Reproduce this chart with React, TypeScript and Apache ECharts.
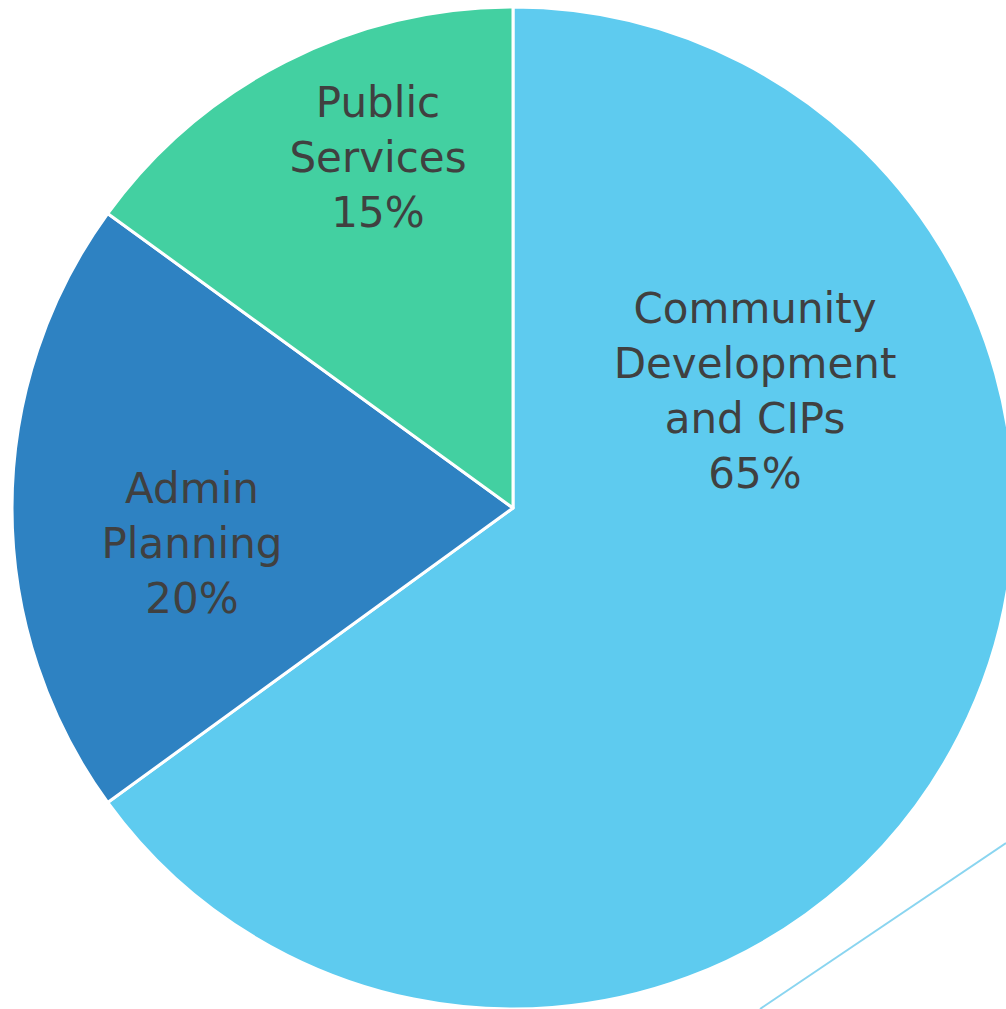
import React, { useEffect, useRef } from "react";
import * as echarts from "echarts";

const categories = ["Community\nDevelopment\nand CIPs", "Admin\nPlanning", "Public\nServices"];
const values = [65, 20, 15];
const colors = ["#5ECBEF", "#2E82C2", "#43D0A1"];

// label anchor positions (layout, px)
const labelPos: [number, number][] = [
  [755, 391],
  [192, 543],
  [378, 157],
];

export default function App() {
  const ref = useRef<HTMLDivElement>(null);
  useEffect(() => {
    if (!ref.current) return;
    const chart = echarts.init(ref.current, undefined, { renderer: "svg" });
    chart.setOption({
      animation: false,
      backgroundColor: "#ffffff",
      series: [
        {
          type: "pie",
          center: [513, 508],
          radius: [0, 501],
          startAngle: 90,
          clockwise: true,
          silent: true,
          itemStyle: { borderColor: "#ffffff", borderWidth: 3 },
          label: {
            show: true,
            position: "inside",
            formatter: "{b}\n{c}%",
            color: "#404040",
            fontSize: 42,
            lineHeight: 55,
            fontFamily: "DejaVu Sans",
            align: "center",
            verticalAlign: "middle",
          },
          labelLine: { show: false },
          labelLayout: (p: any) => ({
            x: labelPos[p.dataIndex][0],
            y: labelPos[p.dataIndex][1],
            align: "center",
            verticalAlign: "middle",
          }),
          data: categories.map((n, i) => ({
            name: n,
            value: values[i],
            itemStyle: { color: colors[i] },
          })),
        },
      ],
      graphic: [
        {
          type: "line",
          shape: { x1: 760, y1: 1009, x2: 1006, y2: 843 },
          style: { stroke: "#8AD5F0", lineWidth: 2 },
          silent: true,
        },
      ],
    });
    return () => chart.dispose();
  }, []);
  return (
    <div
      ref={ref}
      style={{ position: "absolute", left: 0, top: 0, width: 1006, height: 1009 }}
    />
  );
}
